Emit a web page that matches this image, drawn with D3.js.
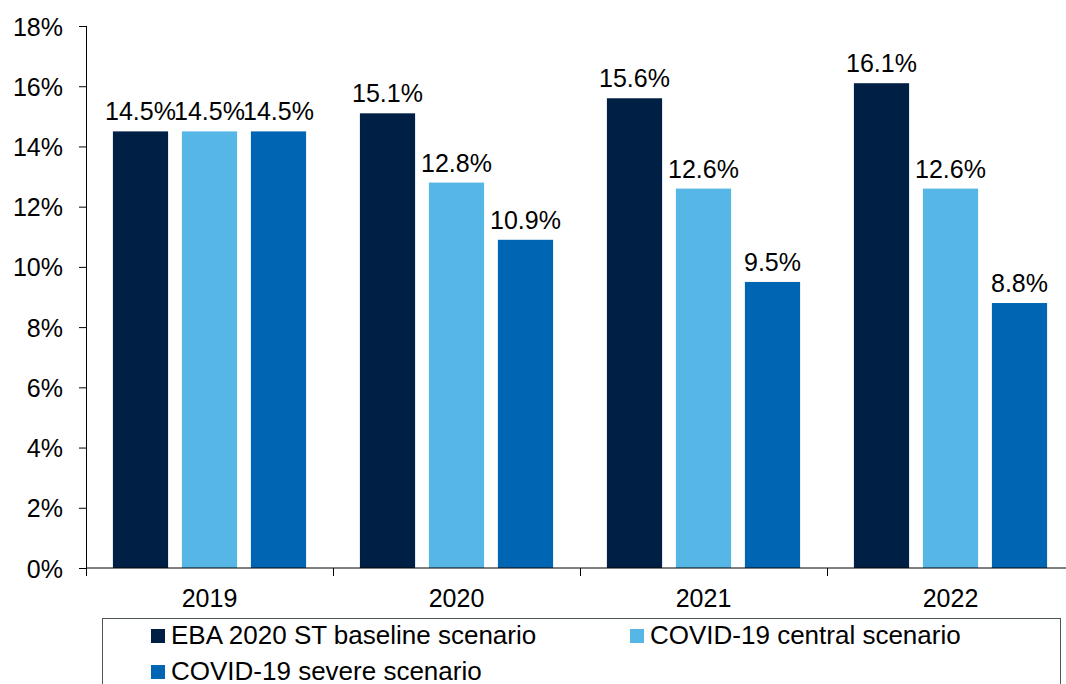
<!DOCTYPE html>
<html lang="en">
<head>
<meta charset="UTF-8">
<title>CET1 ratio by scenario</title>
<script src="https://cdn.jsdelivr.net/npm/d3@7"></script>
<style>
  body { margin: 0; background: #fff; }
  svg text { font-family: "Liberation Sans", Arial, sans-serif; fill: #000; }
</style>
</head>
<body>
<svg id="chart" width="1066" height="684"></svg>
<script>
// data
const years = ["2019", "2020", "2021", "2022"];
const seriesNames = ["EBA 2020 ST baseline scenario", "COVID-19 central scenario", "COVID-19 severe scenario"];
const seriesColors = ["#001f45", "#56b6e6", "#0066b3"];
const baseline = [14.5, 15.1, 15.6, 16.1];
const central = [14.5, 12.8, 12.6, 12.6];
const severe = [14.5, 10.9, 9.5, 8.8];
const yTicks = [0, 2, 4, 6, 8, 10, 12, 14, 16, 18];

const seriesValues = [baseline, central, severe];

const svg = d3.select("#chart");
const fontSize = 25;

const x0 = d3.scaleBand().domain(years).range([86, 1074]);
const x1 = d3.scaleBand().domain(d3.range(seriesNames.length))
    .range([0, x0.bandwidth()]).paddingInner(0.2).paddingOuter(0.39);
const y = d3.scaleLinear().domain([0, 18]).range([568, 26]);

// y axis
const yAxis = svg.append("g")
    .attr("transform", "translate(86,0)")
    .call(d3.axisLeft(y).tickValues(yTicks).tickSize(7).tickPadding(16)
      .tickFormat(d => d + "%"));
yAxis.selectAll("text").style("font-size", fontSize + "px").attr("dy", "0.36em");
yAxis.selectAll("line, path").attr("stroke", "#000");
yAxis.select(".domain").attr("d", "M0.5," + y(18) + "V" + y(0));

// bars
const groups = svg.append("g").selectAll("g")
  .data(years)
  .join("g")
    .attr("transform", d => "translate(" + x0(d) + ",0)");

groups.selectAll("rect")
  .data((yr, i) => seriesValues.map((s, k) => ({k: k, v: s[i]})))
  .join("rect")
    .attr("x", d => x1(d.k))
    .attr("width", x1.bandwidth())
    .attr("y", d => y(d.v))
    .attr("height", d => y(0) - y(d.v))
    .attr("fill", d => seriesColors[d.k]);

groups.selectAll("text")
  .data((yr, i) => seriesValues.map((s, k) => ({k: k, v: s[i]})))
  .join("text")
    .attr("x", d => x1(d.k) + x1.bandwidth() / 2)
    .attr("y", d => y(d.v) - 11)
    .attr("text-anchor", "middle")
    .style("font-size", fontSize + "px")
    .text(d => d.v.toFixed(1) + "%");

// x axis
const xAxis = svg.append("g").attr("transform", "translate(0," + y(0) + ")");
xAxis.append("line")
    .attr("x1", 86).attr("x2", 1074)
    .attr("stroke", "#000");
xAxis.selectAll("line.tick")
  .data(years)
  .join("line")
    .attr("class", "tick")
    .attr("x1", d => x0(d) + 0.5).attr("x2", d => x0(d) + 0.5)
    .attr("y1", 0).attr("y2", 8)
    .attr("stroke", "#000");
xAxis.selectAll("text")
  .data(years)
  .join("text")
    .attr("x", d => x0(d) + x0.bandwidth() / 2)
    .attr("y", 39)
    .attr("text-anchor", "middle")
    .style("font-size", fontSize + "px")
    .text(d => d);

// legend
const legend = svg.append("g");
legend.append("rect")
    .attr("x", 102.5).attr("y", 618.5)
    .attr("width", 958).attr("height", 100)
    .attr("fill", "none")
    .attr("stroke", "#4d5656");

const legendPos = [[151, 644], [630, 644], [151, 680]];
const items = legend.selectAll("g")
  .data(seriesNames)
  .join("g")
    .attr("transform", (d, i) => "translate(" + legendPos[i][0] + "," + legendPos[i][1] + ")");
items.append("rect")
    .attr("x", 0).attr("y", -15)
    .attr("width", 14).attr("height", 14)
    .attr("fill", (d, i) => seriesColors[i]);
items.append("text")
    .attr("x", 20).attr("y", 0)
    .style("font-size", "26px")
    .text(d => d);
</script>
</body>
</html>
